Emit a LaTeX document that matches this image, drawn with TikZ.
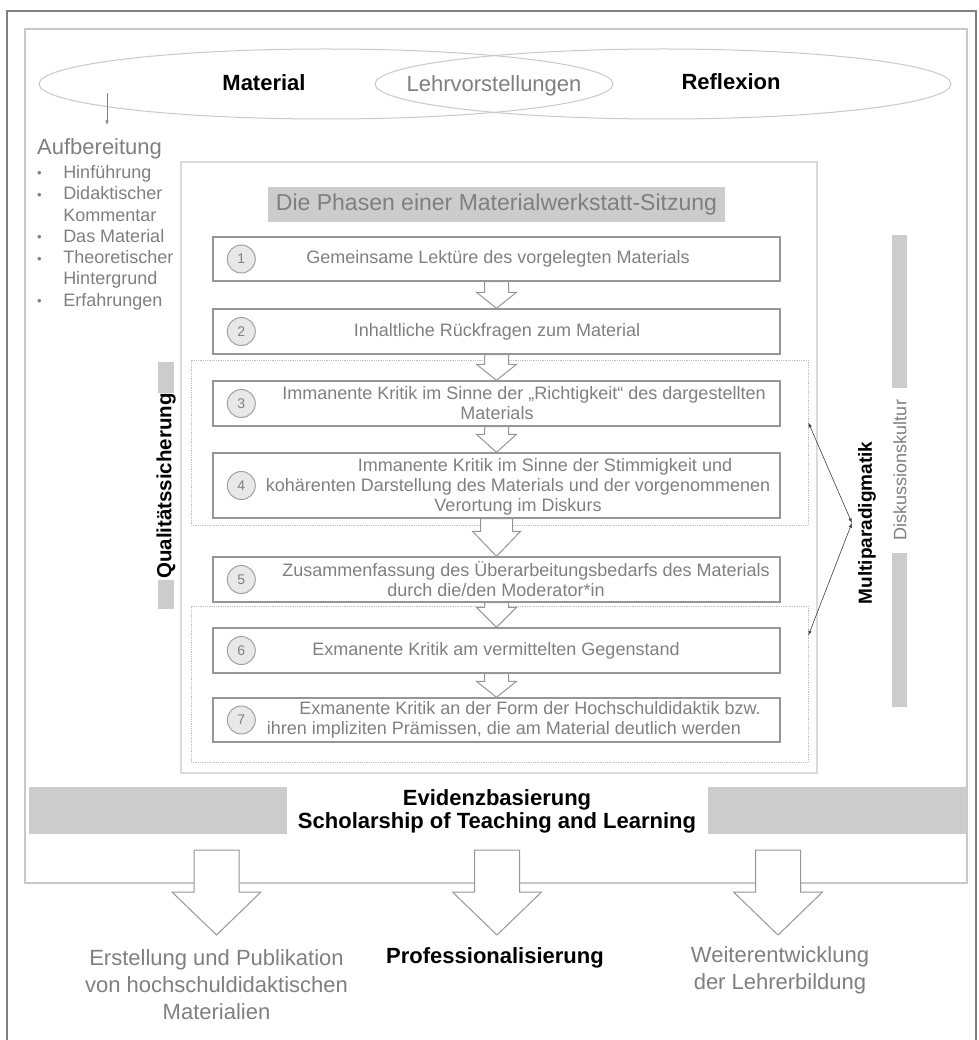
\documentclass[tikz,border=0pt]{standalone}
\usepackage{fontspec}
\setmainfont{Liberation Sans}
\usetikzlibrary{arrows,calc}
\definecolor{framegray}{RGB}{127,127,127}
\definecolor{linegray}{RGB}{200,200,200}
\definecolor{lightline}{RGB}{218,218,218}
\definecolor{dotgray}{RGB}{190,190,190}
\definecolor{boxgray}{RGB}{150,150,150}
\definecolor{bargray}{RGB}{204,204,204}
\definecolor{txtgray}{RGB}{127,127,127}
\definecolor{circfill}{RGB}{232,232,232}
\definecolor{circgray}{RGB}{160,160,160}
\newcommand{\tsm}  {\fontsize{18}{20}\selectfont}
\newcommand{\tlist}{\fontsize{18}{21.3}\selectfont}
\newcommand{\tbig} {\fontsize{22}{23}\selectfont}
\newcommand{\tout} {\fontsize{22}{27}\selectfont}
\newcommand{\tnum} {\fontsize{14}{15}\selectfont}
\newcommand{\tdot} {\raisebox{0.5pt}{\fontsize{13}{13}\selectfont\textbullet}}
% hollow block arrow: start, tip, shaft half width, head half width, head length
\newcommand{\blockarrow}[5]{%
  \filldraw[arrowbody] ($(#1)+(-#3,0)$) -- ($(#2)+(-#3,-#5)$) -- ($(#2)+(-#4,-#5)$) -- (#2)
     -- ($(#2)+(#4,-#5)$) -- ($(#2)+(#3,-#5)$) -- ($(#1)+(#3,0)$) -- cycle;}

\begin{document}
\begin{tikzpicture}[x=1pt,y=-1pt,
    phasebox/.style={draw=boxgray,line width=1.4pt,minimum width=567pt,inner sep=0pt},
    phasetext/.style={text=txtgray,font=\tsm,align=center,inner sep=0pt},
    numcirc/.style={circle,draw=circgray,fill=circfill,line width=1pt,minimum size=28pt,
                    inner sep=0pt,text=txtgray,font=\tnum},
    groupbox/.style={draw=dotgray,densely dotted,line width=0.8pt,minimum width=617pt,inner sep=0pt},
    arrowbody/.style={draw=boxgray,fill=white,line width=1pt,line join=miter},
    boldlabel/.style={font=\tbig\bfseries,inner sep=0pt},
    graylabel/.style={font=\tbig,text=txtgray,inner sep=0pt},
    bar/.style={fill=bargray}]
       \useasboundingbox (0,0) rectangle (978,1040);
       \draw[framegray,line width=2.5pt] (7,1042) -- (7,11) -- (976,11) -- (976,1042);
       \draw[linegray,line width=1.3pt] (25,29) rectangle (967,883);

       \draw[linegray,line width=1pt] (326,84) ellipse (287pt and 35pt);
       \draw[linegray,line width=1pt] (663,84) ellipse (288pt and 35pt);
       \node[boldlabel] (mat) at (264,83) {Material};
       \node[graylabel] (lehr) at (494,86) {Lehrvorstellungen};
       \node[boldlabel] (refl) at (731,82) {Reflexion};

       \node[graylabel,anchor=base west] (aufb) at (37,155) {Aufbereitung};
       \coordinate (matdown) at (107,93);
       \draw[-latex,txtgray,line width=0.6pt,shorten >=14pt] (matdown) -- (matdown |- aufb.north);
       \node[anchor=base west,inner sep=0pt,text=txtgray,font=\tlist] (aufl) at (37,178.5)
          {\begin{tabular}[t]{@{}l@{\hspace{21.5pt}}l@{}}
           \tdot & Hinführung\\ \tdot & Didaktischer\\ & Kommentar\\ \tdot & Das Material\\
           \tdot & Theoretischer\\ & Hintergrund\\ \tdot & Erfahrungen
           \end{tabular}};

       \draw[lightline,line width=1.3pt] (181,162) rectangle (817,773);
       \node[fill=bargray,minimum width=457pt,minimum height=35pt,inner sep=0pt,
             text=txtgray,font=\fontsize{23}{24}\selectfont] (title) at (496.5,204.5)
             {Die Phasen einer Materialwerkstatt-Sitzung};

       \node[groupbox,minimum height=165pt] (grpA) at (499.5,442.5) {};
       \node[groupbox,minimum height=156pt] (grpB) at (499.5,684) {};

       \node[phasebox,minimum height=44pt] (p1) at (496.5,259)   {};
       \node[phasebox,minimum height=45pt] (p2) at (496.5,331.5) {};
       \node[phasebox,minimum height=45pt] (p3) at (496.5,403.5) {};
       \node[phasebox,minimum height=65pt] (p4) at (496.5,485.5) {};
       \node[phasebox,minimum height=45pt] (p5) at (496.5,579.5) {};
       \node[phasebox,minimum height=45pt] (p6) at (496.5,650.5) {};
       \node[phasebox,minimum height=44pt] (p7) at (496.5,720)   {};

       \blockarrow{p1.south}{p2.north}{12}{20}{16}
       \blockarrow{p2.south}{p3.north}{12}{20}{16}
       \blockarrow{p3.south}{p4.north}{12}{20}{18}
       \blockarrow{p4.south}{p5.north}{16}{24}{25}
       \blockarrow{p5.south}{p6.north}{12}{20}{20}
       \blockarrow{p6.south}{p7.north}{12}{20}{16}

       \node[numcirc] (n1) at ([xshift=29pt]p1.west) {1};
       \node[numcirc] (n2) at ([xshift=29pt]p2.west) {2};
       \node[numcirc] (n3) at ([xshift=29pt]p3.west) {3};
       \node[numcirc] (n4) at ([xshift=29pt]p4.west) {4};
       \node[numcirc] (n5) at ([xshift=29pt]p5.west) {5};
       \node[numcirc] (n6) at ([xshift=29pt]p6.west) {6};
       \node[numcirc] (n7) at ([xshift=29pt]p7.west) {7};

       \node[phasetext] (t1) at (498,259)   {Gemeinsame Lektüre des vorgelegten Materials};
       \node[phasetext] (t2) at (497,331.5) {Inhaltliche Rückfragen zum Material};
       \node[phasetext] (t3) at (497,403.5) {\hspace*{54pt}Immanente Kritik im Sinne der „Richtigkeit“ des dargestellten\\Materials};
       \node[phasetext] (t4) at (518,487)   {\hspace*{54pt}Immanente Kritik im Sinne der Stimmigkeit und\\kohärenten Darstellung des Materials und der vorgenommenen\\Verortung im Diskurs};
       \node[phasetext] (t5) at (496,579.5) {\hspace*{60pt}Zusammenfassung des Überarbeitungsbedarfs des Materials\\durch die/den Moderator*in};
       \node[phasetext] (t6) at (496,650.5) {Exmanente Kritik am vermittelten Gegenstand};
       \node[phasetext] (t7) at (504,720)   {\hspace*{52pt}Exmanente Kritik an der Form der Hochschuldidaktik bzw.\\ihren impliziten Prämissen, die am Material deutlich werden};

       \fill[bar] (158,362) rectangle (174,393);
       \fill[bar] (158,580) rectangle (174,609);
       \node[rotate=90,font=\fontsize{20.5}{22}\selectfont\bfseries,inner sep=0pt] (qual) at (166,486) {Qualitätssicherung};

       \fill[bar] (892,235) rectangle (907,388);
       \fill[bar] (892,553) rectangle (907,707);
       \node[rotate=90,font=\tsm,text=txtgray,inner sep=0pt] (disk) at (900,470) {Diskussionskultur};
       \node[rotate=90,font=\fontsize{19}{20}\selectfont\bfseries,inner sep=6pt] (multi) at (867,523) {Multiparadigmatik};
       \draw[latex-latex,black!75,line width=0.6pt] (multi.north) -- ($(grpA.north east)!0.38!(grpA.south east)$);
       \draw[latex-latex,black!75,line width=0.6pt] (multi.north) -- ($(grpB.north east)!0.19!(grpB.south east)$);

       \fill[bar] (29,787)  rectangle (287,834);
       \fill[bar] (708,787) rectangle (967,834);
       \node[boldlabel,align=center] (evid) at (497,811.5) {Evidenzbasierung\\Scholarship of Teaching and Learning};

       \coordinate (src1) at (216.5,850); \coordinate (tip1) at (216.5,935);
       \coordinate (src2) at (497,850);   \coordinate (tip2) at (497,935);
       \coordinate (src3) at (778,850);   \coordinate (tip3) at (778,935);
       \blockarrow{src1}{tip1}{22.5}{44.5}{43}
       \blockarrow{src2}{tip2}{22.5}{44.5}{43}
       \blockarrow{src3}{tip3}{22.5}{44.5}{43}

       \node[font=\tout,text=txtgray,align=center,inner sep=0pt] (out1) at (216.5,985) {Erstellung und Publikation\\von hochschuldidaktischen\\Materialien};
       \node[boldlabel] (out2) at (495,958) {Professionalisierung};
       \node[font=\tout,text=txtgray,align=center,inner sep=0pt] (out3) at (780,970) {Weiterentwicklung\\der Lehrerbildung};
      \end{tikzpicture}
\end{document}
